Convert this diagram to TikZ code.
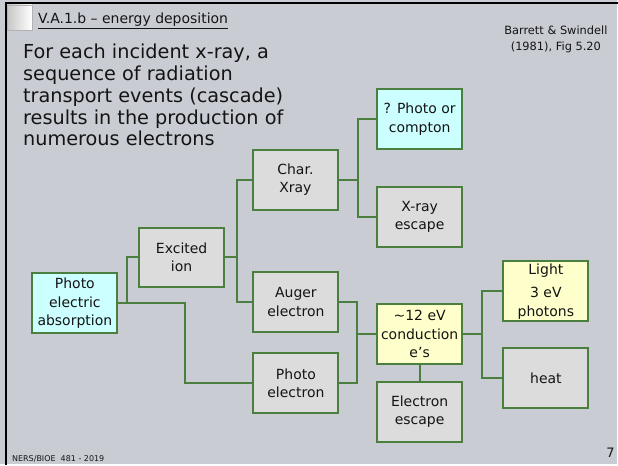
\documentclass[tikz,border=0pt]{standalone}
\usepackage{fontspec}
\setmainfont{DejaVu Sans}
\definecolor{slidebg}{HTML}{C9CDD3}
\definecolor{boxgray}{HTML}{DCDCDC}
\definecolor{boxcyan}{HTML}{CCFFFF}
\definecolor{boxyellow}{HTML}{FFFFCC}
\definecolor{boxline}{HTML}{4A7F40}
\definecolor{inktext}{HTML}{141414}
\begin{document}
\begin{tikzpicture}[x=1pt,y=-1pt]
            \tikzstyle{box}=[draw=boxline,line width=2pt,fill=boxgray,minimum width=85pt,minimum height=60pt,align=center,text=inktext,font=\fontsize{14}{18.5}\selectfont,inner sep=1pt]
            \tikzstyle{cyanbox}=[box,fill=boxcyan]
            \tikzstyle{yellowbox}=[box,fill=boxyellow]
            \tikzstyle{link}=[draw=boxline,line width=2pt]
            % slide background and frame
            \fill[slidebg] (0,0) rectangle (618,465);
            \shade[left color=gray!45,right color=white,draw=gray!60,line width=0.4pt] (7,5) rectangle (32,30);
            \draw[line width=2.5pt,line cap=rect] (6,465) -- (6,3) -- (618,3);
            % texts
            \node[anchor=base west,inner sep=0,text=inktext,font=\fontsize{14}{16}\selectfont] (title) at (38,24) {\underline{V.A.1.b – energy deposition}};
            \node[anchor=north west,inner sep=0,align=left,text=inktext,font=\fontsize{19.3}{21.8}\selectfont] (intro) at (23,44) {For each incident x-ray, a\\sequence of radiation\\transport events (cascade)\\results in the production of\\numerous electrons};
            \node[align=center,inner sep=0,text=inktext,font=\fontsize{11.4}{16}\selectfont] (ref) at (557,39) {Barrett \& Swindell\\(1981), Fig 5.20};
            \node[anchor=base west,inner sep=0,text=inktext,font=\fontsize{8}{9}\selectfont] (footer) at (12,462) {NERS/BIOE\ \ 481 - 2019};
            \node[anchor=base east,inner sep=0,text=inktext,font=\fontsize{13}{15}\selectfont] (page) at (616,458) {7};
            % cascade boxes
            \node [cyanbox] (pea) at (75,304) {Photo\\electric\\absorption};
            \node [box] (ion) at (182,258) {Excited\\ion};
            \node [box] (char) at (296,180) {Char.\\Xray};
            \node [cyanbox] (compton) at (420.5,119.5) {? Photo or\\compton};
            \node [box] (xesc) at (420.5,217.5) {X-ray\\escape};
            \node [box] (auger) at (296.5,302.5) {Auger\\electron};
            \node [box] (pel) at (296.5,384) {Photo\\electron};
            \node [yellowbox] (cond) at (420.5,335) {\textasciitilde12 eV\\conduction\\e’s};
            \node [box] (eesc) at (420.5,412.5) {Electron\\escape};
            \node [yellowbox] (light) at (547,292) {Light\\[5pt]3 eV\\photons};
            \node [box] (heat) at (547,379) {heat};
            % connectors
            \path[link] (pea.east) -- ++(9,0) |- (ion.west);
            \path[link] (pea.east) -- ++(67,0) |- (pel.west);
            \path[link] (ion.east) -- ++(12,0) |- (char.west);
            \path[link] (ion.east) -- ++(12,0) |- (auger.west);
            \path[link] (char.east) -- ++(19,0) |- (compton.west);
            \path[link] (char.east) -- ++(19,0) |- (xesc.west);
            \path[link] (auger.east) -- ++(18,0) |- (cond.west);
            \path[link] (pel.east) -- ++(18,0) |- (cond.west);
            \path[link] (cond.east) -- ++(19,0) |- (light.west);
            \path[link] (cond.east) -- ++(19,0) |- (heat.west);
            \path[link] (cond.south) -- (eesc.north);
\end{tikzpicture}
\end{document}
